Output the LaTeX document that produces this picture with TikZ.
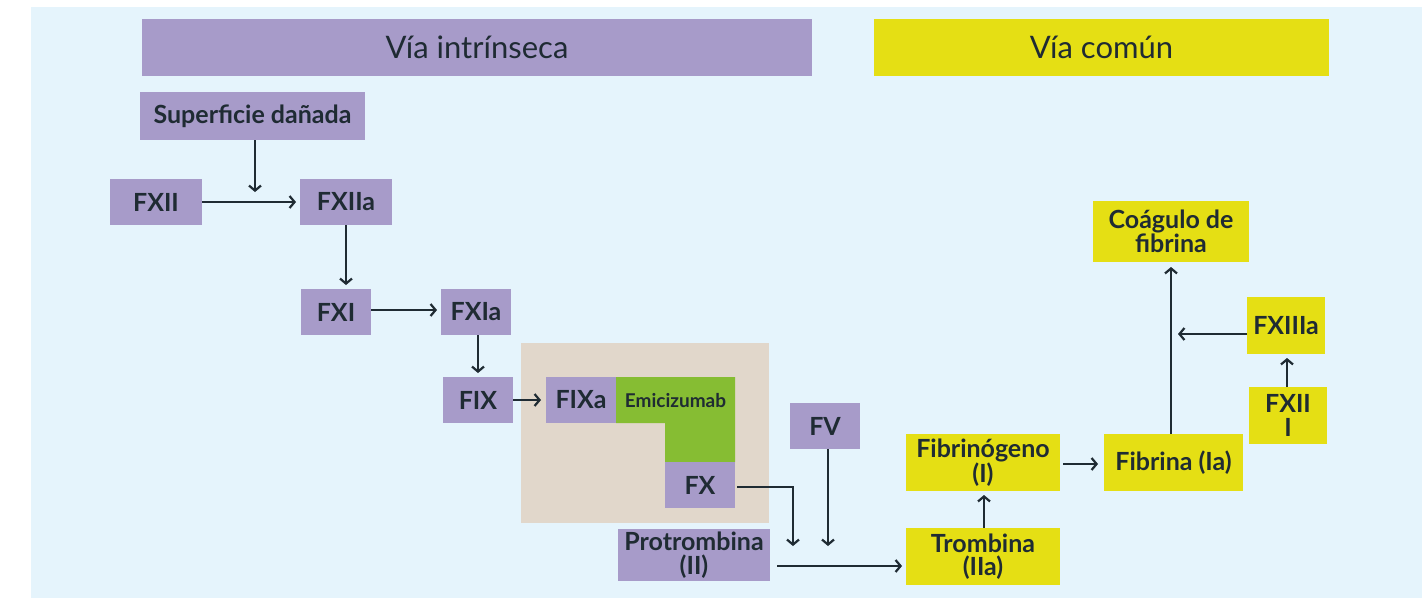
\documentclass[tikz,border=0pt]{standalone}
\usepackage{fontspec}
\setmainfont{Lato}
\usetikzlibrary{arrows.meta,calc}
\definecolor{bgblue}{HTML}{E5F4FC}
\definecolor{lav}{HTML}{A79BC9}
\definecolor{yel}{HTML}{E5DF14}
\definecolor{grn}{HTML}{86BD33}
\definecolor{beige}{HTML}{E1D7CB}
\definecolor{ink}{HTML}{1F2B33}
\begin{document}
\begin{tikzpicture}[x=1pt,y=-1pt,
  bx/.style 2 args={inner sep=0pt, outer sep=0pt, text=ink, align=center,
     minimum width=#1pt, minimum height=#2pt,
     font=\fontsize{25}{23.5}\selectfont\bfseries},
  pb/.style 2 args={bx={#1}{#2}, fill=lav},
  yb/.style 2 args={bx={#1}{#2}, fill=yel},
  hdr/.style={font=\fontsize{31}{32}\selectfont},
  arr/.style={draw=ink, line width=2.5pt,
     -{Straight Barb[length=5pt,width=12pt,line width=2.2pt]}}
]
\useasboundingbox (0,0) rectangle (1422,598);
\fill[bgblue] (31,7) rectangle (1422,598);
% beige area and green L shape
\fill[beige] (521,343) rectangle (769,523);
\fill[grn] (616,377) -- (735,377) -- (735,462) -- (665,462) -- (665,423) -- (616,423) -- cycle;
\node[text=ink, font=\fontsize{19}{20}\selectfont\bfseries] (emi) at (675.5,401) {Emicizumab};
% headers
\node[pb={670}{57}, hdr] (hint) at (477,47.5) {Vía intrínseca};
\node[yb={455}{57}, hdr] (hcom) at (1101.5,47.5) {Vía común};
% purple nodes
\node[pb={225}{48}] (sup) at (252.5,116) {Superficie dañada};
\node[pb={92}{46}] (fxii) at (156,202) {FXII};
\node[pb={92}{46}] (fxiia) at (346,202) {FXIIa};
\node[pb={70}{46}] (fxi) at (336,312) {FXI};
\node[pb={70}{46}] (fxia) at (476,312) {FXIa};
\node[pb={70}{46}] (fix) at (478,400) {FIX};
\node[pb={70}{46}] (fixa) at (581,400) {FIXa};
\node[pb={70}{46}] (fx) at (700,485) {FX};
\node[pb={70}{46}] (fv) at (825,426) {FV};
\node[pb={152}{52}] (pro) at (694,555) {Protrombina\\(II)};
% yellow nodes
\node[yb={154}{57}] (trom) at (983,556.5) {Trombina\\(IIa)};
\node[yb={154}{57}] (fibg) at (983,462.5) {Fibrinógeno\\(I)};
\node[yb={139}{57}] (fibr) at (1173.5,462.5) {Fibrina (Ia)};
\node[yb={156}{61}] (coag) at (1171,231.5) {Coágulo de\\fibrina};
\node[yb={78}{57}] (fxiiia) at (1286,325.5) {FXIIIa};
\node[yb={78}{57}] (fxiii) at (1288,415.5) {FXII\\I};
% junction points
\coordinate (j1) at (255,192);
\coordinate (j2) at (793,546);
\coordinate (j3) at (828,546);
\coordinate (j4) at (1178,334);
% connectors
\draw[arr] (sup.south -| j1) -- (j1);
\draw[arr, shorten >=4pt] (fxii.east) -- (fxiia.west);
\draw[arr, shorten >=4pt] (fxiia.south) -- (fxiia.south |- fxi.north);
\draw[arr, shorten >=4pt] ([yshift=2pt]fxi.east) -- ([yshift=2pt]fxi.east -| fxia.west);
\draw[arr, shorten >=4pt] (fix.north |- fxia.south) -- (fix.north);
\draw[arr, shorten >=5pt] (fix.east) -- (fixa.west);
\draw[arr, shorten <=2pt] ([yshift=-2pt]fx.east) -| (j2);
\draw[arr] (fv.south -| j3) -- (j3);
\draw[arr, shorten <=7pt, shorten >=4pt] ([yshift=-11pt]pro.east) -- ([yshift=-11pt]pro.east -| trom.west);
\draw[arr, shorten >=4pt] ([xshift=1pt]trom.north) -- ([xshift=1pt]fibg.south);
\draw[arr, shorten <=3pt, shorten >=6pt] ([yshift=-1.5pt]fibg.east) -- ([yshift=-1.5pt]fibg.east -| fibr.west);
\draw[arr, shorten >=5pt] (fibr.north -| coag.south) -- (coag.south);
\draw[arr] (fxiiia.west |- j4) -- (j4);
\draw[arr, shorten >=4pt] ([xshift=-1pt]fxiii.north) -- ([xshift=-1pt]fxiii.north |- fxiiia.south);
\end{tikzpicture}
\end{document}
